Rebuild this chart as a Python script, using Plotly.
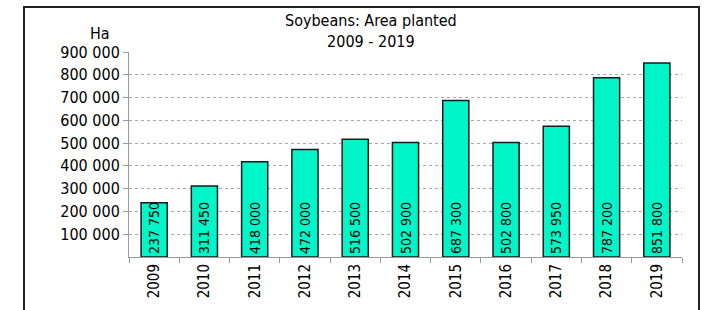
import plotly.graph_objects as go

years = ["2009", "2010", "2011", "2012", "2013", "2014", "2015", "2016", "2017", "2018", "2019"]
area_ha = [237750, 311450, 418000, 472000, 516500, 502900, 687300, 502800, 573950, 787200, 851800]
y_ticks = [100000, 200000, 300000, 400000, 500000, 600000, 700000, 800000, 900000]

def fmt(v):
    return f"{v:,}".replace(",", " ")

FONT = "DejaVu Sans Condensed, DejaVu Sans"

fig = go.Figure()
fig.add_trace(go.Bar(
    x=years, y=area_ha,
    text=[fmt(v) for v in area_ha],
    textposition="inside", insidetextanchor="start", textangle=-90,
    constraintext="none",
    textfont=dict(family=FONT, size=14, color="black"),
    marker=dict(color="#00F5C8", line=dict(color="#1a1a1a", width=1.5)),
    width=0.52,
))

W, H = 704, 310
L, R, T, B = 129, 22, 52, 49
pw, ph = W - L - R, H - T - B

def px_x(px):
    return (px - L) / pw

def px_y(py):
    return (H - B - py) / ph

fig.update_layout(
    width=W, height=H,
    margin=dict(l=L, r=R, t=T, b=B, pad=0),
    paper_bgcolor="white", plot_bgcolor="white",
    separators=", ",
    showlegend=False,
    font=dict(family=FONT, size=15, color="black"),
    xaxis=dict(
        type="category", tickangle=-90, ticks="outside", tickson="boundaries",
        ticklen=5, tickcolor="#999", showline=True, linecolor="#999", linewidth=1,
        showgrid=False, tickfont=dict(family=FONT, size=15), fixedrange=True,
    ),
    yaxis=dict(
        range=[0, 900000], tickvals=y_ticks, ticktext=[fmt(v) for v in y_ticks],
        ticks="outside", ticklen=5, tickcolor="#999",
        showline=True, linecolor="#999", linewidth=1,
        showgrid=True, gridcolor="#a8a8a8", griddash="dot", gridwidth=1,
        zeroline=False, tickfont=dict(family=FONT, size=16), fixedrange=True,
    ),
    shapes=[dict(
        type="rect", xref="paper", yref="paper",
        x0=px_x(24), x1=px_x(699), y0=px_y(330), y1=px_y(6),
        line=dict(color="#222", width=2), fillcolor="rgba(0,0,0,0)", layer="above",
    )],
    annotations=[
        dict(text="Soybeans: Area planted<br>2009 - 2019", xref="paper", yref="paper",
             x=px_x(371), y=px_y(31), xanchor="center", yanchor="middle",
             showarrow=False, font=dict(family=FONT, size=16)),
        dict(text="Ha", xref="paper", yref="paper",
             x=px_x(112), y=px_y(33), xanchor="right", yanchor="middle",
             showarrow=False, font=dict(family=FONT, size=16)),
    ],
)

fig.write_html(
    "out.html",
    config={"displayModeBar": False},
    post_script="document.body.style.margin='0';document.body.style.overflow='hidden';",
)
